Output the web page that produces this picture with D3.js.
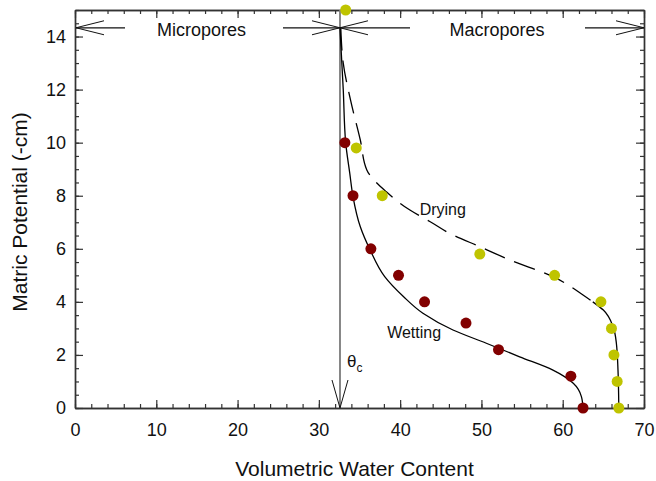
<!DOCTYPE html>
<html>
<head>
<meta charset="utf-8">
<script src="https://cdn.jsdelivr.net/npm/d3@7"></script>
<style>
  body { margin: 0; background: #fff; }
  svg { display: block; font-family: "Liberation Sans", Arial, sans-serif; }
</style>
</head>
<body>
<svg id="chart" width="656" height="481"></svg>
<script>
// measured points (theta, -h)
var wettingTheta = [33.2, 34.2, 36.4, 39.8, 43.0, 48.1, 52.1, 61.0, 62.5]
var wettingH     = [10,   8,    6,    5,    4,    3.2,  2.2,  1.2,  0]
var dryingTheta  = [33.3, 34.6, 37.8, 49.8, 59.0, 64.7, 66.0, 66.3, 66.7, 66.9]
var dryingH      = [15,   9.8,  8,    5.8,  5,    4,    3,    2,    1,    0]

// fitted curves
var wettingCurveTheta = [32.6, 33.0, 33.3, 33.8, 34.2, 35.1, 36.3, 38.1, 40.4, 42.8, 46.5, 50.6, 54.7, 58.8, 61.3, 62.3, 62.5]
var wettingCurveH     = [14.3, 12.0, 10.0, 8.85, 7.97, 6.83, 5.96, 4.95, 4.2,  3.57, 2.94, 2.44, 1.93, 1.43, 0.93, 0.43, 0]
var dryingCurveTheta  = [32.7, 33.0, 33.9, 35.1, 35.9, 38.3, 41.2, 43.7, 46.1, 49.8, 53.5, 58.8, 62.5, 63.7, 65.0, 66.2, 66.6, 66.8, 66.9]
var dryingCurveH      = [14.3, 13.0, 11.6, 10.1, 8.97, 8.15, 7.46, 7.02, 6.58, 6.08, 5.58, 4.95, 4.26, 4.0,  3.69, 3.06, 2.44, 1.43, 0]
var dryingSolidBelow = 4.0

var thetaC = 32.6
var poreArrowH = 14.33

var xTicks = [0, 10, 20, 30, 40, 50, 60, 70]
var yTicks = [0, 2, 4, 6, 8, 10, 12, 14]
var xMinor = d3.range(0, 71, 2)
var yMinor = d3.range(0, 15.1, 0.5)

var margin = {left: 75, right: 12, top: 10, bottom: 73}
var width = 656, height = 481

var svg = d3.select("#chart")

var x = d3.scaleLinear().domain([0, 70]).range([margin.left, width - margin.right])
var y = d3.scaleLinear().domain([0, 15]).range([height - margin.bottom, margin.top])

var axisColor = "#333"

function styleAxis(g) {
  g.selectAll("path.domain").attr("stroke", axisColor).attr("stroke-width", 1.4)
  g.selectAll(".tick line").attr("stroke", axisColor).attr("stroke-width", 1.2)
  g.selectAll("text").attr("font-size", 18).attr("fill", "#111")
    .attr("font-family", "Liberation Sans, Arial, sans-serif")
}

// minor ticks
svg.append("g").attr("transform", "translate(0," + y(0) + ")")
  .call(d3.axisBottom(x).tickValues(xMinor).tickSize(-4).tickSizeOuter(0).tickFormat(""))
  .call(styleAxis)
svg.append("g").attr("transform", "translate(0," + y(15) + ")")
  .call(d3.axisTop(x).tickValues(xMinor).tickSize(-4).tickSizeOuter(0).tickFormat(""))
  .call(styleAxis)
svg.append("g").attr("transform", "translate(" + x(0) + ",0)")
  .call(d3.axisLeft(y).tickValues(yMinor).tickSize(-4).tickSizeOuter(0).tickFormat(""))
  .call(styleAxis)
svg.append("g").attr("transform", "translate(" + x(70) + ",0)")
  .call(d3.axisRight(y).tickValues(yMinor).tickSize(-4).tickSizeOuter(0).tickFormat(""))
  .call(styleAxis)

// major ticks
svg.append("g").attr("transform", "translate(0," + y(0) + ")")
  .call(d3.axisBottom(x).tickValues(xTicks).tickSize(-8).tickSizeOuter(0).tickPadding(15).tickFormat(d3.format("d")))
  .call(styleAxis)
svg.append("g").attr("transform", "translate(0," + y(15) + ")")
  .call(d3.axisTop(x).tickValues(xTicks).tickSize(-8).tickSizeOuter(0).tickFormat(""))
  .call(styleAxis)
svg.append("g").attr("transform", "translate(" + x(0) + ",0)")
  .call(d3.axisLeft(y).tickValues(yTicks).tickSize(-8).tickSizeOuter(0).tickPadding(9).tickFormat(d3.format("d")))
  .call(styleAxis)
svg.append("g").attr("transform", "translate(" + x(70) + ",0)")
  .call(d3.axisRight(y).tickValues(yTicks).tickSize(-8).tickSizeOuter(0).tickFormat(""))
  .call(styleAxis)

// axis titles
svg.append("text")
  .attr("x", (x(0) + x(70)) / 2 - 5).attr("y", 476)
  .attr("text-anchor", "middle").attr("font-size", 21).attr("fill", "#111")
  .text("Volumetric Water Content")
svg.append("text")
  .attr("transform", "translate(27," + ((y(0) + y(15)) / 2 + 3) + ") rotate(-90)")
  .attr("text-anchor", "middle").attr("font-size", 21).attr("fill", "#111")
  .text("Matric Potential (-cm)")

// theta_c line with arrow head at bottom
var cx = x(thetaC)
svg.append("line")
  .attr("x1", cx).attr("x2", cx).attr("y1", y(15)).attr("y2", y(0))
  .attr("stroke", "#7a7a7a").attr("stroke-width", 1.8)
svg.append("path")
  .attr("d", "M" + (cx - 8) + "," + (y(0) - 28) + "L" + cx + "," + y(0) + "L" + (cx + 8) + "," + (y(0) - 28))
  .attr("fill", "none").attr("stroke", "#111").attr("stroke-width", 1)

var thetaLabel = svg.append("text")
  .attr("x", cx + 7).attr("y", 367)
  .attr("font-size", 17).attr("fill", "#111")
thetaLabel.append("tspan").text("θ")
thetaLabel.append("tspan").attr("font-size", 12).attr("dy", 5).text("c")

// pore-class arrows
var ay = y(poreArrowH)
function arrowHead(tipX, dir) {
  svg.append("path")
    .attr("d", "M" + (tipX + dir * 28) + "," + (ay - 7) + "L" + tipX + "," + ay + "L" + (tipX + dir * 28) + "," + (ay + 7))
    .attr("fill", "none").attr("stroke", "#111").attr("stroke-width", 1)
}
function poreArrow(x0, x1, label, labelX, gapL, gapR) {
  svg.append("line").attr("x1", x0).attr("x2", gapL).attr("y1", ay).attr("y2", ay)
    .attr("stroke", "#111").attr("stroke-width", 1.2)
  svg.append("line").attr("x1", gapR).attr("x2", x1).attr("y1", ay).attr("y2", ay)
    .attr("stroke", "#111").attr("stroke-width", 1.2)
  arrowHead(x0, 1)
  arrowHead(x1, -1)
  svg.append("text").attr("x", labelX).attr("y", ay + 8)
    .attr("text-anchor", "middle").attr("font-size", 18).attr("fill", "#111")
    .text(label)
}
poreArrow(x(0) + 1, cx, "Micropores", 201.5, 125, 283)
poreArrow(cx, x(70), "Macropores", 497, 410, 585)

// fitted curves
var line = d3.line()
  .x(function(d) { return x(d[0]); })
  .y(function(d) { return y(d[1]); })
  .curve(d3.curveMonotoneY)

var wettingCurve = d3.zip(wettingCurveTheta, wettingCurveH)
var dryingCurve = d3.zip(dryingCurveTheta, dryingCurveH)

svg.append("path")
  .datum(wettingCurve)
  .attr("d", line)
  .attr("fill", "none").attr("stroke", "#000").attr("stroke-width", 1.3)

svg.append("path")
  .datum(dryingCurve.filter(function(d) { return d[1] >= dryingSolidBelow; }))
  .attr("d", line)
  .attr("fill", "none").attr("stroke", "#000").attr("stroke-width", 1.3)
  .attr("stroke-dasharray", "22,10")
svg.append("path")
  .datum(dryingCurve.filter(function(d) { return d[1] <= dryingSolidBelow; }))
  .attr("d", line)
  .attr("fill", "none").attr("stroke", "#000").attr("stroke-width", 1.3)

// points
svg.append("g").selectAll("circle")
  .data(d3.zip(dryingTheta, dryingH))
  .enter().append("circle")
  .attr("cx", function(d) { return x(d[0]); })
  .attr("cy", function(d) { return y(d[1]); })
  .attr("r", 5.5)
  .style("fill", "#bfc400")

svg.append("g").selectAll("circle")
  .data(d3.zip(wettingTheta, wettingH))
  .enter().append("circle")
  .attr("cx", function(d) { return x(d[0]); })
  .attr("cy", function(d) { return y(d[1]); })
  .attr("r", 5.5)
  .style("fill", "#820000")

// curve labels
svg.append("text").attr("x", x(42.4)).attr("y", 215)
  .attr("font-size", 16).attr("fill", "#111").text("Drying")
svg.append("text").attr("x", x(38.4)).attr("y", 338)
  .attr("font-size", 16).attr("fill", "#111").text("Wetting")
</script>
</body>
</html>
